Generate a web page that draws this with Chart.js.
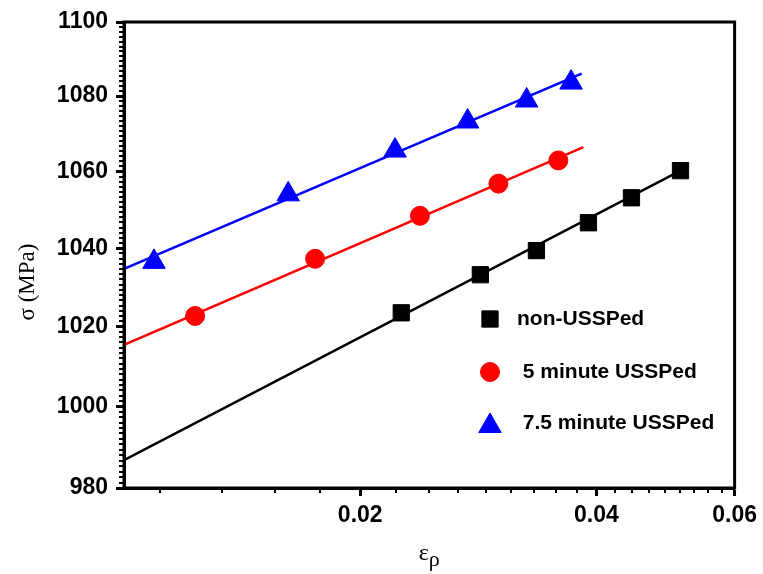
<!DOCTYPE html>
<html><head><meta charset="utf-8">
<script src="https://cdn.jsdelivr.net/npm/chart.js@4/dist/chart.umd.min.js"></script>
<style>html,body{margin:0;padding:0;background:#fff}#wrap{width:763px;height:574px}</style>
</head><body><div id="wrap"><canvas id="c" width="763" height="574"></canvas></div>
<script>
// ---- data ----
const seriesNames = ['non-USSPed', ' 5 minute USSPed', ' 7.5 minute USSPed'];
const seriesColors = ['#000000', '#ff0000', '#0000ff'];
const nonX = [0.02256, 0.02845, 0.03354, 0.03907, 0.04433, 0.05119];
const nonY = [1023.5, 1033.2, 1039.4, 1046.6, 1053.1, 1060.2];
const m5X = [0.01232, 0.01752, 0.02383, 0.03000, 0.03577];
const m5Y = [1022.7, 1037.3, 1048.4, 1056.8, 1062.9];
const m75X = [0.01092, 0.01619, 0.02215, 0.02741, 0.03259, 0.03713];
const m75Y = [1036.5, 1054.0, 1065.5, 1073.2, 1078.8, 1083.6];
const fitNonX = [0.01, 0.0512];
const fitNonY = [986.8, 1060.2];
const fit5X = [0.01, 0.0385];
const fit5Y = [1015.4, 1066.4];
const fit75X = [0.01, 0.0383];
const fit75Y = [1034.7, 1086.0];
const xTicks = [0.02, 0.04, 0.06];
const xTickLabels = ['0.02', '0.04', '0.06'];
const yTicks = [980, 1000, 1020, 1040, 1060, 1080, 1100];
const yTickLabels = ['980', '1000', '1020', '1040', '1060', '1080', '1100'];
const xRange = [0.01, 0.06];
const yRange = [980, 1100];
const xMinorStep = 0.02 / 9;
const yMinorStep = 20 / 15;

const pts = (xs, ys) => xs.map((v, i) => ({x: v, y: ys[i]}));

const decor = {
  id: 'decor',
  afterDraw(chart) {
    const {ctx, chartArea: a, scales: {x, y}} = chart;
    ctx.save();
    ctx.strokeStyle = '#000';
    ctx.lineWidth = 3;
    ctx.strokeRect(a.left, a.top, a.right - a.left, a.bottom - a.top);
    // minor ticks
    ctx.lineWidth = 2;
    ctx.beginPath();
    for (let k = 1; k * xMinorStep < xRange[1]; k++) {
      const v = k * xMinorStep;
      if (v < xRange[0] || k % 9 === 0) continue;
      const px = Math.round(x.getPixelForValue(v));
      ctx.moveTo(px, a.bottom); ctx.lineTo(px, a.bottom + 5);
    }
    for (let k = 1; yRange[0] + k * yMinorStep < yRange[1] - 0.01; k++) {
      if (k % 15 === 0) continue;
      const py = Math.round(y.getPixelForValue(yRange[0] + k * yMinorStep));
      ctx.moveTo(a.left, py); ctx.lineTo(a.left - 5, py);
    }
    ctx.stroke();
    // axis titles
    ctx.fillStyle = '#000';
    ctx.textBaseline = 'alphabetic';
    ctx.font = '24px "Liberation Serif", "Times New Roman", serif';
    const cx = (a.left + a.right) / 2;
    const eW = ctx.measureText('ε').width;
    ctx.font = '22px "Liberation Serif", "Times New Roman", serif';
    const rW = ctx.measureText('ρ').width;
    const sx = cx - (eW + rW) / 2;
    ctx.font = '24px "Liberation Serif", "Times New Roman", serif';
    ctx.textAlign = 'left';
    ctx.fillText('ε', sx, 560);
    ctx.font = '22px "Liberation Serif", "Times New Roman", serif';
    ctx.fillText('ρ', sx + eW, 566);
    ctx.save();
    ctx.translate(34, 282);
    ctx.rotate(-Math.PI / 2);
    ctx.textAlign = 'center';
    ctx.font = '23px "Liberation Serif", "Times New Roman", serif';
    ctx.fillText('σ (MPa)', 0, 0);
    ctx.restore();
    // legend
    const lx = 490, ly = [319, 372, 423], tx = 517;
    const styles = ['rect', 'circle', 'triangle'];
    const radii = [11.5, 9.5, 13];
    ctx.font = 'bold 21px "Liberation Sans", Arial, sans-serif';
    ctx.textBaseline = 'middle';
    ctx.textAlign = 'left';
    for (let i = 0; i < 3; i++) {
      ctx.fillStyle = seriesColors[i];
      ctx.strokeStyle = seriesColors[i];
      ctx.lineWidth = 1;
      Chart.helpers.drawPoint(ctx, {pointStyle: styles[i], radius: radii[i], borderWidth: 1, rotation: 0}, lx, ly[i] + (i === 2 ? 3 : 0));
      ctx.fillStyle = '#000';
      ctx.fillText(seriesNames[i], tx, ly[i]);
    }
    ctx.restore();
  }
};

const tickFont = {family: '"Liberation Sans", Arial, sans-serif', size: 23, weight: 'bold'};

new Chart(document.getElementById('c'), {
  type: 'scatter',
  data: {
    datasets: [
      {label: seriesNames[0], data: pts(nonX, nonY), pointStyle: 'rect', pointRadius: 11.5, backgroundColor: seriesColors[0], borderColor: seriesColors[0], borderWidth: 1, showLine: false},
      {label: seriesNames[1], data: pts(m5X, m5Y), pointStyle: 'circle', pointRadius: 9.5, backgroundColor: seriesColors[1], borderColor: seriesColors[1], borderWidth: 1, showLine: false},
      {label: seriesNames[2], data: pts(m75X, m75Y), pointStyle: 'triangle', pointRadius: 13, backgroundColor: seriesColors[2], borderColor: seriesColors[2], borderWidth: 1, showLine: false},
      {label: 'fit0', data: pts(fitNonX, fitNonY), showLine: true, pointRadius: 0, borderColor: seriesColors[0], borderWidth: 2.5, fill: false},
      {label: 'fit1', data: pts(fit5X, fit5Y), showLine: true, pointRadius: 0, borderColor: seriesColors[1], borderWidth: 2.5, fill: false},
      {label: 'fit2', data: pts(fit75X, fit75Y), showLine: true, pointRadius: 0, borderColor: seriesColors[2], borderWidth: 2.5, fill: false}
    ]
  },
  options: {
    responsive: false,
    animation: false,
    devicePixelRatio: 1,
    layout: {padding: {top: 22, right: 27, left: 0, bottom: 0}},
    plugins: {legend: {display: false}, tooltip: {enabled: false}},
    scales: {
      x: {
        type: 'logarithmic', min: xRange[0], max: xRange[1],
        afterBuildTicks: s => { s.ticks = xTicks.map(v => ({value: v})); },
        afterFit: s => { s.height = 86; },
        ticks: {callback: (v, i) => xTickLabels[i], font: tickFont, color: '#000', padding: 6, maxRotation: 0, autoSkip: false},
        grid: {drawOnChartArea: false, drawTicks: true, tickLength: 8, tickWidth: 3, tickColor: '#000'},
        border: {display: true, width: 3, color: '#000'}
      },
      y: {
        type: 'logarithmic', min: yRange[0], max: yRange[1],
        afterBuildTicks: s => { s.ticks = yTicks.map(v => ({value: v})); },
        afterFit: s => { s.width = 124; },
        ticks: {callback: (v, i) => yTickLabels[i], font: tickFont, color: '#000', padding: 8, autoSkip: false},
        grid: {drawOnChartArea: false, drawTicks: true, tickLength: 8, tickWidth: 3, tickColor: '#000'},
        border: {display: true, width: 3, color: '#000'}
      }
    }
  },
  plugins: [decor]
});
</script></body></html>
